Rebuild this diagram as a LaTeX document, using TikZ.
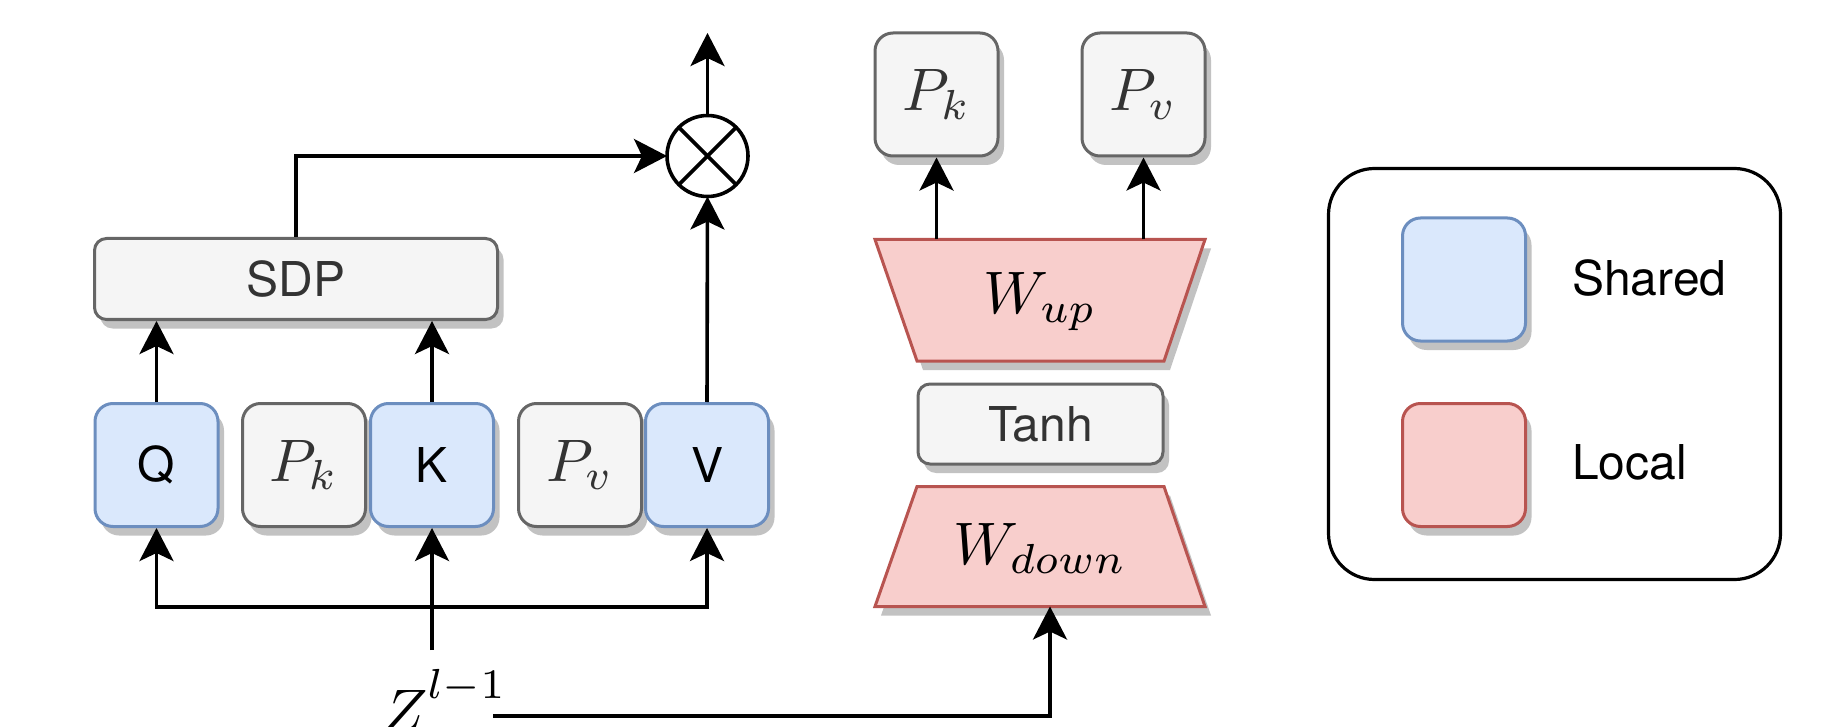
\documentclass[tikz,border=0pt]{standalone}
\usepackage{graphicx}
\usepackage{fontspec}
\setsansfont{TeX Gyre Heros}
\usetikzlibrary{arrows.meta,shadows,calc}

\definecolor{sharedfill}{HTML}{DAE8FC}
\definecolor{shareddraw}{HTML}{6C8EBF}
\definecolor{localfill}{HTML}{F8CECC}
\definecolor{localdraw}{HTML}{B85450}
\definecolor{neutralfill}{HTML}{F5F5F5}
\definecolor{neutraldraw}{HTML}{666666}
\definecolor{neutraltext}{HTML}{333333}
\definecolor{shadowgray}{HTML}{C2C2C2}

% large math symbol, set at 10pt and enlarged
\newcommand{\bigsym}[1]{\scalebox{6}{$#1$}}

\begin{document}
\begin{tikzpicture}[x=1pt,y=-1pt,
  sansfont/.style={font=\fontsize{48}{58}\sffamily\selectfont},
  softshadow/.style={drop shadow={shadow xshift=6pt,shadow yshift=-9pt,fill=shadowgray,opacity=1}},
  blk/.style={rounded corners=18pt,line width=3pt,inner sep=0pt,softshadow},
  sq/.style={blk,minimum width=123pt,minimum height=123pt},
  sharedbox/.style={sq,fill=sharedfill,draw=shareddraw,sansfont,text=black},
  localbox/.style={sq,fill=localfill,draw=localdraw},
  neutralsq/.style={sq,fill=neutralfill,draw=neutraldraw,text=neutraltext},
  neutralbar/.style={blk,rounded corners=12pt,fill=neutralfill,draw=neutraldraw,sansfont,text=neutraltext},
  arr/.style={line width=3.6pt,-{Stealth[length=33pt,width=34pt,inset=8pt]}},
  plain/.style={line width=3.6pt},
  trap/.style={fill=localfill,draw=localdraw,line width=3pt,line join=miter},
  trapshadow/.style={fill=shadowgray,xshift=6pt,yshift=-9pt}
]
\useasboundingbox (0,0) rectangle (1823,727);

% attention branch: projections and memory prefixes
\node[sharedbox] (q) at (156.5,465) {Q};
\node[neutralsq] (pk) at (304,465) {\bigsym{P_k}};
\node[sharedbox] (k) at (432,465) {K};
\node[neutralsq] (pv) at (580,465) {\bigsym{P_v}};
\node[sharedbox] (v) at (707,465) {V};

\node[neutralbar,minimum width=403pt,minimum height=81pt] (sdp) at (296,279) {SDP};

% product node
\node[circle,draw,line width=3.6pt,minimum size=81pt,inner sep=0pt,outer sep=0pt] (mul) at (707.5,156) {};
\draw[plain] (mul.north west) -- (mul.south east);
\draw[plain] (mul.north east) -- (mul.south west);

\coordinate (attnout) at (707.5,33);
\draw[arr] (mul.north) -- (attnout);
\draw[arr] (sdp.north) |- (mul.west);
\draw[arr] (v.north) -- (mul.south);
\draw[arr] (q.north) -- (q.north |- sdp.south);
\draw[arr] (k.north) -- (k.north |- sdp.south);

% input and its fan-out
\node[anchor=base west,inner sep=0pt] (z) at (382,731) {\bigsym{Z^{\raisebox{1.8pt}{$\scriptstyle l-1$}}}};
\coordinate (zin) at (432,650);
\coordinate (fork) at (432,607);
\draw[arr] (zin) -- (k.south);
\draw[arr] (fork) -| (q.south);
\draw[arr] (fork) -| (v.south);

% prefix generator: down-projection, Tanh, up-projection
\fill[trapshadow] (875,239.5) -- (1205,239.5) -- (1164,361) -- (917,361) -- cycle;
\draw[trap] (875,239.5) -- (1205,239.5) -- (1164,361) -- (917,361) -- cycle;
\node (wup) at (1040,302) {\bigsym{W_{up}}};

\node[neutralbar,minimum width=245pt,minimum height=80pt] (tanh) at (1040.5,424) {Tanh};

\fill[trapshadow] (917,486.5) -- (1164,486.5) -- (1205,606.5) -- (875,606.5) -- cycle;
\draw[trap] (917,486.5) -- (1164,486.5) -- (1205,606.5) -- (875,606.5) -- cycle;
\node (wdown) at (1040,548) {\bigsym{W_{down}}};

\node[neutralsq] (pkt) at (936.5,94.5) {\bigsym{P_k}};
\node[neutralsq] (pvt) at (1143.5,94.5) {\bigsym{P_v}};

\coordinate (wupN) at (1040,239.5);
\draw[arr] (pkt.south |- wupN) -- (pkt.south);
\draw[arr] (pvt.south |- wupN) -- (pvt.south);

\coordinate (zout) at (493,716);
\coordinate (wdin) at (1050,606.5);
\draw[arr] (zout) -| (wdin);

% legend
\node[draw,line width=3.2pt,rounded corners=46pt,minimum width=452pt,minimum height=411pt,inner sep=0pt] (legend) at (1554.5,374) {};
\node[sharedbox] (lshared) at (1464,279.5) {};
\node[localbox] (llocal) at (1464,465) {};
\node[sansfont,anchor=base west,inner sep=0pt] (tshared) at (1572,295) {Shared};
\node[sansfont,anchor=base west,inner sep=0pt] (tlocal) at (1572,479) {Local};
\end{tikzpicture}
\end{document}
